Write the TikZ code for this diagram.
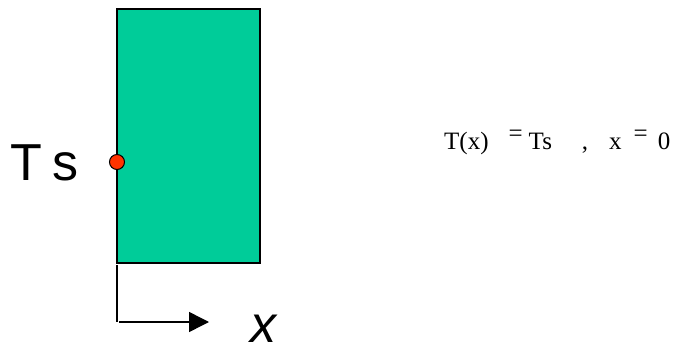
\documentclass[tikz,border=0pt]{standalone}
\usepackage{fontspec}
\setmainfont{Liberation Serif}
\newfontfamily\arialfont{Liberation Sans}
\usepackage{xcolor}
\usepackage{tikz}
\usetikzlibrary{arrows.meta, positioning}
\definecolor{wallgreen}{RGB}{0,204,153}
\definecolor{dotred}{RGB}{255,51,0}

\begin{document}
\begin{tikzpicture}[
    x=1pt, y=1pt,
    >={Triangle[length=20pt, width=20pt]},
    wallbox/.style={draw, line width=1.5pt, fill=wallgreen, minimum width=143pt, minimum height=254pt, inner sep=0pt},
    surfdot/.style={circle, draw, line width=1pt, fill=dotred, minimum size=15pt, inner sep=0pt},
    axisline/.style={line width=1.5pt},
    biglabel/.style={font=\arialfont\fontsize{52}{60}\selectfont, inner sep=0pt, anchor=base west},
]
    \useasboundingbox (0,0) rectangle (682,-350);
    \node[wallbox] (wall) at (188.5,-136) {};
    \node[surfdot] (dot) at (117,-162) {};
    \node[biglabel] (tslabel) at (10,-180) {T\hspace{11pt}s};
    % x axis below the wall
    \coordinate (org) at (117,-265);
    \coordinate (corner) at (117,-322);
    \coordinate (tip) at (209,-322);
    \draw[axisline] (org) -- (corner);
    \draw[axisline, ->] ([xshift=2pt]corner) -- (tip);
    \node[biglabel, font=\arialfont\itshape\fontsize{52}{60}\selectfont] (xlabel) at (250,-342) {x};
    % boundary condition
    \node[inner sep=0pt, anchor=base west, font=\fontsize{25}{29}\selectfont] (bc) at (444,-149)
        {T(x)\hspace{20pt}\raisebox{8pt}{=}\hspace{6pt}Ts\hspace{30pt},\hspace{21pt}x\hspace{12pt}\raisebox{8pt}{=}\hspace{10pt}0};
\end{tikzpicture}
\end{document}
